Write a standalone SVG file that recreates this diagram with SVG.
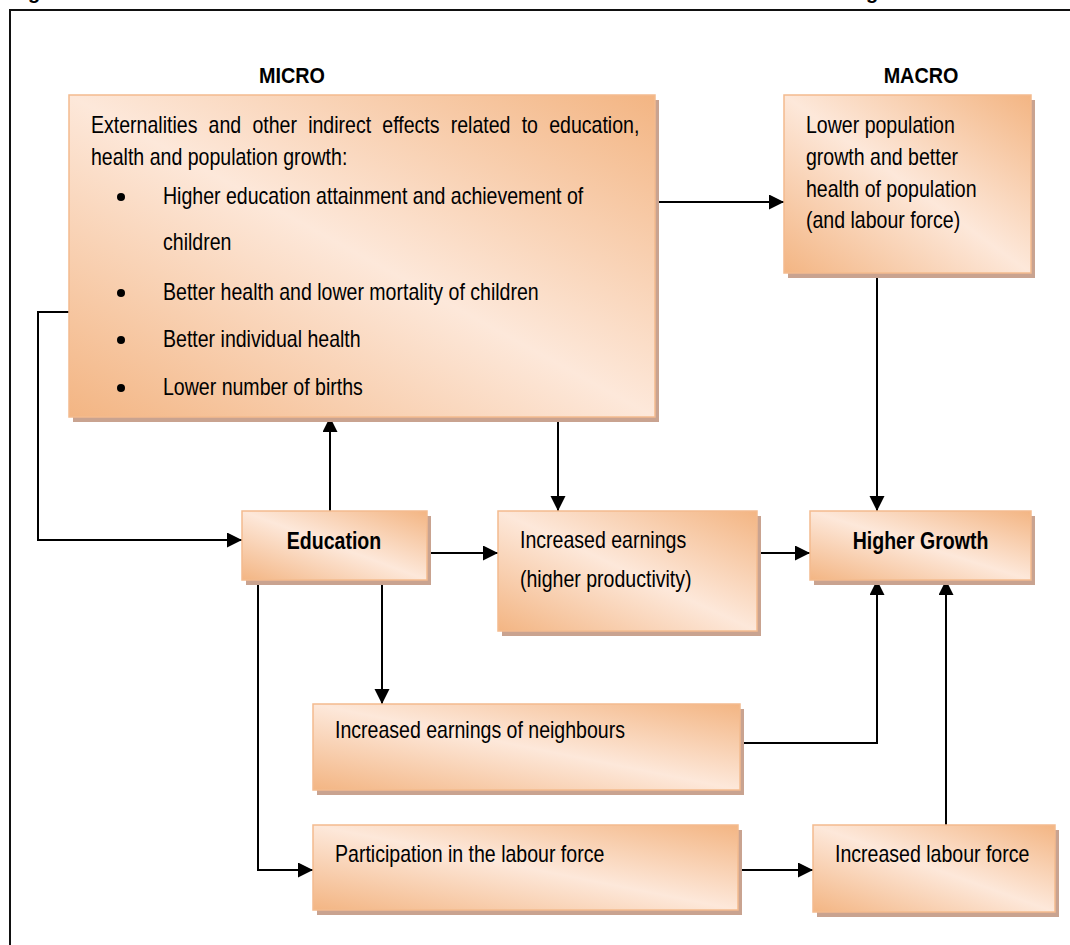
<svg xmlns="http://www.w3.org/2000/svg" width="1070" height="945" viewBox="0 0 1070 945">
<style>
.t{font-family:"Liberation Sans",Arial,sans-serif;font-size:23px;fill:#000}
.b{font-weight:bold}
.box{fill:url(#grad);stroke:#f3bb8e;stroke-width:1.5}
.sh{fill:#c9a390}
.con{fill:none;stroke:#000;stroke-width:2}
.frame{fill:none;stroke:#111;stroke-width:2}
</style>
<defs>
<linearGradient id="grad" x1="1" y1="0" x2="0" y2="1">
<stop offset="0" stop-color="#f3b583"/>
<stop offset="0.5" stop-color="#fde8da"/>
<stop offset="1" stop-color="#f3b583"/>
</linearGradient>
<marker id="arr" markerUnits="userSpaceOnUse" markerWidth="16" markerHeight="16" refX="15" refY="7.5" orient="auto">
<path d="M0,0 L15,7.5 L0,15 z" fill="#000"/>
</marker>
</defs>
<rect width="1070" height="945" fill="#fff"/>
<text class="t b" x="28" y="-1" style="font-size:20px">g</text>
<text class="t b" x="866" y="-1" style="font-size:20px">g</text>
<path class="frame" d="M10,945 V10 H1070"/>
<text class="t b" transform="translate(292 83) scale(0.9 1)" text-anchor="middle" style="font-size:22px">MICRO</text>
<text class="t b" transform="translate(921 83) scale(0.9 1)" text-anchor="middle" style="font-size:22px">MACRO</text>
<g id="connectors">
<path class="con" d="M656,202 H784" marker-end="url(#arr)"/>
<path class="con" d="M69,312 H38 V540 H242" marker-end="url(#arr)"/>
<path class="con" d="M330,511 V417" marker-end="url(#arr)"/>
<path class="con" d="M558,422 V511" marker-end="url(#arr)"/>
<path class="con" d="M427,553 H498" marker-end="url(#arr)"/>
<path class="con" d="M757,553 H810" marker-end="url(#arr)"/>
<path class="con" d="M877,278 V511" marker-end="url(#arr)"/>
<path class="con" d="M382,585 V704" marker-end="url(#arr)"/>
<path class="con" d="M258,585 V870 H313" marker-end="url(#arr)"/>
<path class="con" d="M740,743 H877 V580" marker-end="url(#arr)"/>
<path class="con" d="M741,870 H813" marker-end="url(#arr)"/>
<path class="con" d="M946,825 V580" marker-end="url(#arr)"/>
</g>
<g id="micro">
<rect class="sh" x="73" y="100" width="586" height="322"/>
<rect class="box" x="69" y="95" width="586" height="322"/>
<text class="t" transform="translate(91 133) scale(0.85 1)" style="word-spacing:6.8px">Externalities and other indirect effects related to education,</text>
<text class="t" transform="translate(91 165) scale(0.85 1)">health and population growth:</text>
<circle cx="121" cy="197" r="4" fill="#000"/>
<text class="t" transform="translate(163 204) scale(0.85 1)">Higher education attainment and achievement of</text>
<text class="t" transform="translate(163 250) scale(0.85 1)">children</text>
<circle cx="121" cy="293" r="4" fill="#000"/>
<text class="t" transform="translate(163 300) scale(0.85 1)">Better health and lower mortality of children</text>
<circle cx="121" cy="340" r="4" fill="#000"/>
<text class="t" transform="translate(163 347) scale(0.85 1)">Better individual health</text>
<circle cx="121" cy="388" r="4" fill="#000"/>
<text class="t" transform="translate(163 395) scale(0.85 1)">Lower number of births</text>
</g>
<g id="macro">
<rect class="sh" x="788" y="100" width="247" height="178"/>
<rect class="box" x="784" y="95" width="247" height="178"/>
<text class="t" transform="translate(806 133) scale(0.85 1)">Lower population</text>
<text class="t" transform="translate(806 165) scale(0.85 1)">growth and better</text>
<text class="t" transform="translate(806 197) scale(0.85 1)">health of population</text>
<text class="t" transform="translate(806 228) scale(0.85 1)">(and labour force)</text>
</g>
<g id="education">
<rect class="sh" x="246" y="516" width="185" height="69"/>
<rect class="box" x="242" y="511" width="185" height="69"/>
<text class="t b" transform="translate(334 549) scale(0.85 1)" text-anchor="middle">Education</text>
</g>
<g id="earnings">
<rect class="sh" x="502" y="516" width="259" height="120"/>
<rect class="box" x="498" y="511" width="259" height="120"/>
<text class="t" transform="translate(520 548) scale(0.85 1)">Increased earnings</text>
<text class="t" transform="translate(520 587) scale(0.85 1)">(higher productivity)</text>
</g>
<g id="growth">
<rect class="sh" x="814" y="516" width="221" height="69"/>
<rect class="box" x="810" y="511" width="221" height="69"/>
<text class="t b" transform="translate(920.5 549) scale(0.85 1)" text-anchor="middle">Higher Growth</text>
</g>
<g id="neighbours">
<rect class="sh" x="317" y="709" width="427" height="86"/>
<rect class="box" x="313" y="704" width="427" height="86"/>
<text class="t" transform="translate(335 738) scale(0.85 1)">Increased earnings of neighbours</text>
</g>
<g id="participation">
<rect class="sh" x="317" y="830" width="425" height="85"/>
<rect class="box" x="313" y="825" width="425" height="85"/>
<text class="t" transform="translate(335 862) scale(0.85 1)">Participation in the labour force</text>
</g>
<g id="labour">
<rect class="sh" x="817" y="830" width="242" height="87"/>
<rect class="box" x="813" y="825" width="242" height="87"/>
<text class="t" transform="translate(835 862) scale(0.85 1)">Increased labour force</text>
</g>
</svg>
